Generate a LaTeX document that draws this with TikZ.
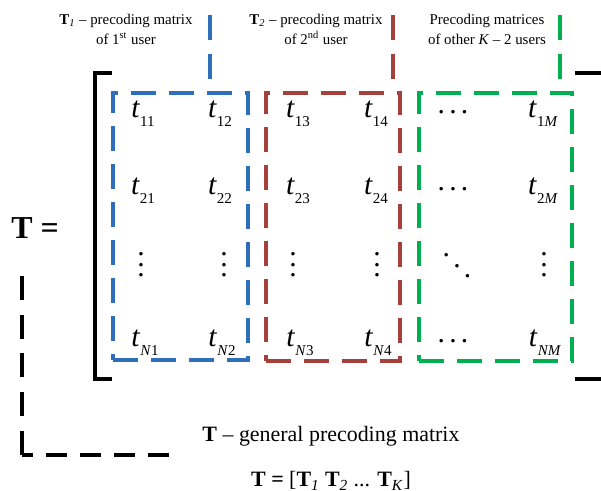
\documentclass[tikz,border=0pt]{standalone}
\usepackage{fontspec}
\setmainfont{Liberation Serif}
\usepackage{tikz}
\usetikzlibrary{positioning,fit}

\definecolor{ublue}{RGB}{46,110,186}
\definecolor{ured}{RGB}{165,64,59}
\definecolor{ugreen}{RGB}{0,176,80}

% matrix entry t with lowered index
\newcommand{\tel}[1]{\textit{t}\raisebox{-6.4pt}{\fontsize{10.7}{12}\selectfont #1}}
\newcommand{\vdts}{\vbox{\baselineskip=7.4pt\lineskiplimit=0pt\hbox{.}\hbox{.}\hbox{.}}}
\newcommand{\hdts}{\raisebox{3.5pt}{.\kern3pt.\kern3pt.}}
\newcommand{\ddts}{\raisebox{14.8pt}{.}\kern2.3pt\raisebox{7.4pt}{.}\kern2.3pt.}

\begin{document}
\begin{tikzpicture}[
    x=0.025cm, y=-0.025cm,
    lbl/.style={align=center, inner sep=0pt, font=\fontsize{10.6}{14.2}\selectfont},
    ent/.style={anchor=base, inner sep=0pt, font=\fontsize{21}{24}\selectfont},
    dts/.style={inner sep=0pt, font=\fontsize{21}{24}\selectfont},
    capt/.style={anchor=base, inner sep=0pt, font=\fontsize{15.6}{19}\selectfont},
    ubox/.style={rectangle, inner sep=0pt, line width=2.4pt, dash pattern=on 0.62cm off 0.33cm},
    uline/.style={line width=2.4pt, dash pattern=on 0.62cm off 0.35cm},
    brk/.style={line width=2.4pt, black},
    tdash/.style={line width=2.4pt, black},
]
\useasboundingbox (0,0) rectangle (601,491);

% labels of the user blocks
\node[lbl] (lone) at (126,29) {\textbf{T}\textsubscript{\textit{1}} -- precoding matrix\\of 1\textsuperscript{st} user};
\node[lbl] (ltwo) at (316,29) {\textbf{T}\textsubscript{\textit{2}} -- precoding matrix\\of 2\textsuperscript{nd} user};
\node[lbl] (lrest) at (487,29) {Precoding matrices\\of other \textit{K} -- 2 users};

% blocks
\node[ubox, draw=ublue, fit={(113,93) (248,360)}] (tone) {};
\node[ubox, draw=ured, fit={(266,93) (400,361)}] (ttwo) {};
\node[ubox, draw=ugreen, fit={(419,93) (572,361)}] (trest) {};

\coordinate (uone) at (210,15);
\coordinate (utwo) at (393,15);
\coordinate (urest) at (560,15);
\draw[uline, ublue] (uone) -- (uone |- tone.north);
\draw[uline, ured] (utwo) -- (utwo |- ttwo.north);
\draw[uline, ugreen] (urest) -- (urest |- trest.north);

% brackets
\draw[brk] (112,73) -- (95,73) -- (95,379) -- (112,379);
\draw[brk] (575,73) -- (601,73);
\draw[brk] (575,379) -- (601,379);

% entries
\node[ent] (t11) at (143,118) {\tel{11}};
\node[ent] (t12) at (220,118) {\tel{12}};
\node[ent] (t13) at (298,118) {\tel{13}};
\node[ent] (t14) at (376,118) {\tel{14}};
\node[ent] (c1) at (453,118) {\hdts};
\node[ent] (t1M) at (543,118) {\tel{1\textit{M}}};

\node[ent] (t21) at (143,195) {\tel{21}};
\node[ent] (t22) at (220,195) {\tel{22}};
\node[ent] (t23) at (298,195) {\tel{23}};
\node[ent] (t24) at (376,195) {\tel{24}};
\node[ent] (c2) at (453,195) {\hdts};
\node[ent] (t2M) at (543,195) {\tel{2\textit{M}}};

\node[dts] (v1) at (141,265) {\vdts};
\node[dts] (v2) at (224,265) {\vdts};
\node[dts] (v3) at (293,265) {\vdts};
\node[dts] (v4) at (377,265) {\vdts};
\node[dts] (dd) at (457,266) {\ddts};
\node[dts] (v6) at (544,265) {\vdts};

\node[ent] (tN1) at (145,347) {\tel{\textit{N}1}};
\node[ent] (tN2) at (222,347) {\tel{\textit{N}2}};
\node[ent] (tN3) at (300,347) {\tel{\textit{N}3}};
\node[ent] (tN4) at (378,347) {\tel{\textit{N}4}};
\node[ent] (cN) at (453,347) {\hdts};
\node[ent] (tNM) at (545,347) {\tel{\textit{NM}}};

% T = and its dashed corner
\node[inner sep=0pt, font=\fontsize{22.7}{26}\selectfont] (teq) at (35,228) {\textbf{T =}};
\coordinate (ltop) at (22,276);
\coordinate (lcor) at (22,455);
\coordinate (lend) at (169,455);
\draw[tdash, dash pattern=on 0.6cm off 0.37cm] (lcor) -- (ltop);
\draw[tdash, dash pattern=on 0.525cm off 0.325cm, dash phase=0.25cm] (lcor) -- (lend);

% captions
\node[capt] (tgen) at (331,442) {\textbf{T} -- general precoding matrix};
\node[capt] (tdef) at (331,487) {\textbf{T =} [\textbf{T}\textsubscript{\textit{1}} \textbf{T}\textsubscript{\textit{2}} ... \textbf{T}\textsubscript{\textit{K}}]};
\end{tikzpicture}
\end{document}
